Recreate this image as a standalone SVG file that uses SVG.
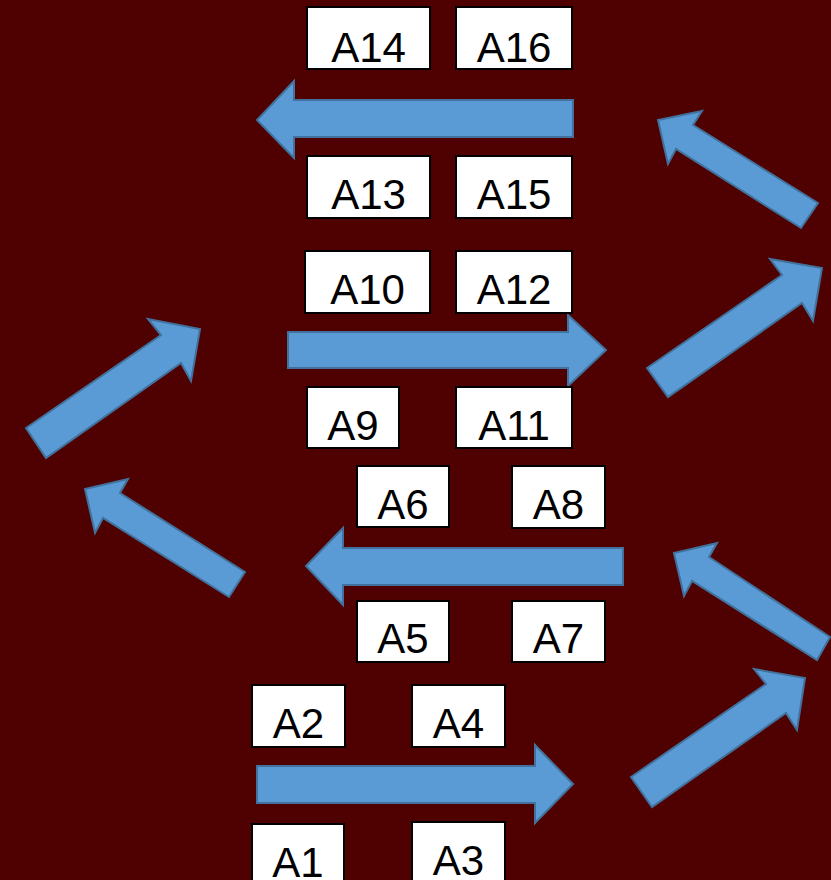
<svg xmlns="http://www.w3.org/2000/svg" width="831" height="880" viewBox="0 0 831 880">
<style>
.box rect{fill:#ffffff;stroke:#000000;stroke-width:2}
.box text{font-family:"Liberation Sans",Arial,sans-serif;font-size:42px;fill:#000000;text-anchor:middle}
.arr{fill:#5b9bd5;stroke:#41719c;stroke-width:2;stroke-linejoin:miter}
</style>
<rect x="0" y="0" width="831" height="880" fill="#4f0000"/>
<g id="connectors">
<polygon class="arr" points="573,100 294,100 294,81 257,120 294,158 294,137 573,137"/>
<polygon class="arr" points="288,332 568,332 568,315 606,350 568,386 568,368 288,368"/>
<polygon class="arr" points="623,548 343,548 343,528 306,566 343,605 343,585 623,585"/>
<polygon class="arr" points="257,766 535,766 535,745 573,784 535,823 535,803 257,803"/>
<polygon class="arr" points="26,428 161,335 148,319 200,329 191,381 181,363 46,458"/>
<polygon class="arr" points="245,572 120,493 128,479 85,489 95,533 103,518 229,597"/>
<polygon class="arr" points="818,203 693,125 702,111 658,120 668,164 676,149 801,228"/>
<polygon class="arr" points="647,368 782,275 770,259 822,268 813,321 802,303 668,397"/>
<polygon class="arr" points="830,637 709,557 717,543 674,553 684,596 692,581 817,660"/>
<polygon class="arr" points="631,777 766,684 754,669 805,678 797,730 786,713 652,807"/>
</g>
<g id="A14" class="box"><rect x="307" y="7" width="123" height="62"/><text x="368.5" y="62">A14</text></g>
<g id="A16" class="box"><rect x="456" y="7" width="116" height="62"/><text x="514" y="62">A16</text></g>
<g id="A13" class="box"><rect x="307" y="156" width="123" height="62"/><text x="368.5" y="209">A13</text></g>
<g id="A15" class="box"><rect x="456" y="156" width="116" height="62"/><text x="514" y="209">A15</text></g>
<g id="A10" class="box"><rect x="305" y="251" width="125" height="62"/><text x="367.5" y="304">A10</text></g>
<g id="A12" class="box"><rect x="456" y="251" width="116" height="62"/><text x="514" y="304">A12</text></g>
<g id="A9" class="box"><rect x="307" y="387" width="92" height="61"/><text x="353" y="440">A9</text></g>
<g id="A11" class="box"><rect x="456" y="387" width="116" height="61"/><text x="514" y="440">A11</text></g>
<g id="A6" class="box"><rect x="357" y="466" width="92" height="61"/><text x="403" y="519">A6</text></g>
<g id="A8" class="box"><rect x="512" y="466" width="93" height="62"/><text x="558.5" y="519">A8</text></g>
<g id="A5" class="box"><rect x="357" y="601" width="92" height="61"/><text x="403" y="653">A5</text></g>
<g id="A7" class="box"><rect x="512" y="601" width="93" height="61"/><text x="558.5" y="653">A7</text></g>
<g id="A2" class="box"><rect x="252" y="685" width="93" height="62"/><text x="298.5" y="738">A2</text></g>
<g id="A4" class="box"><rect x="412" y="685" width="93" height="62"/><text x="458.5" y="738">A4</text></g>
<g id="A1" class="box"><rect x="252" y="824" width="92" height="70"/><text x="298" y="877">A1</text></g>
<g id="A3" class="box"><rect x="412" y="822" width="93" height="70"/><text x="458.5" y="875">A3</text></g>
</svg>
